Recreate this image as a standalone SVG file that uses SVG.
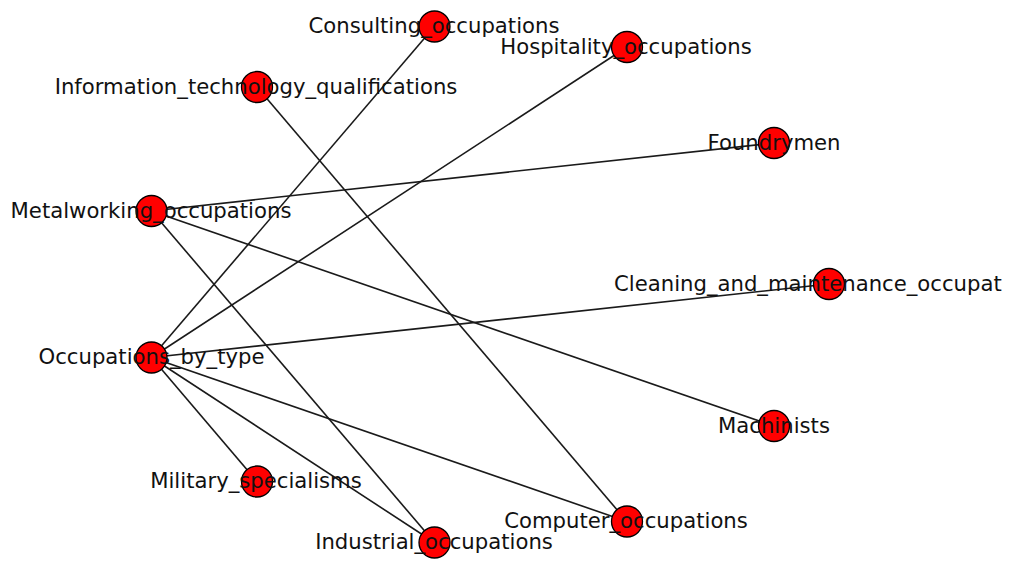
<svg xmlns="http://www.w3.org/2000/svg" width="1009" height="562" viewBox="0 0 1009 562">
<style>
.e{stroke:#1a1a1a;stroke-width:1.6;fill:none}
.n{fill:#ff0000;stroke:#000;stroke-width:1.3}
.t{font-family:"DejaVu Sans",sans-serif;font-size:21.2px;fill:#111;text-anchor:middle}
</style>
<rect width="1009" height="562" fill="#fff"/>
<g id="edges">
<line class="e" x1="151.5" y1="357.5" x2="434.5" y2="26.5"/>
<line class="e" x1="151.5" y1="357.5" x2="627" y2="47"/>
<line class="e" x1="151.5" y1="357.5" x2="829" y2="284"/>
<line class="e" x1="151.5" y1="357.5" x2="257" y2="481.5"/>
<line class="e" x1="151.5" y1="357.5" x2="434.5" y2="542.5"/>
<line class="e" x1="151.5" y1="357.5" x2="627" y2="521.5"/>
<line class="e" x1="151.5" y1="211" x2="774" y2="143"/>
<line class="e" x1="151.5" y1="211" x2="774" y2="426"/>
<line class="e" x1="151.5" y1="211" x2="434.5" y2="542.5"/>
<line class="e" x1="257" y1="87" x2="627" y2="521.5"/>
</g>
<g id="n-consulting"><circle class="n" cx="434.5" cy="26.5" r="15.5"/><text class="t" x="434" y="33">Consulting_occupations</text></g>
<g id="n-hospitality"><circle class="n" cx="627" cy="47" r="15.5"/><text class="t" x="626" y="53.5">Hospitality_occupations</text></g>
<g id="n-it"><circle class="n" cx="257" cy="87" r="15.5"/><text class="t" x="256" y="93.5">Information_technology_qualifications</text></g>
<g id="n-foundrymen"><circle class="n" cx="774" cy="143" r="15.5"/><text class="t" x="774" y="149.5">Foundrymen</text></g>
<g id="n-metalworking"><circle class="n" cx="151.5" cy="211" r="15.5"/><text class="t" x="151" y="217.5">Metalworking_occupations</text></g>
<g id="n-cleaning"><circle class="n" cx="829" cy="284" r="15.5"/><text class="t" x="614" y="290.5" style="text-anchor:start">Cleaning_and_maintenance_occupat</text></g>
<g id="n-occupations"><circle class="n" cx="151.5" cy="357.5" r="15.5"/><text class="t" x="151.5" y="364">Occupations_by_type</text></g>
<g id="n-machinists"><circle class="n" cx="774" cy="426" r="15.5"/><text class="t" x="774" y="432.5">Machinists</text></g>
<g id="n-military"><circle class="n" cx="257" cy="481.5" r="15.5"/><text class="t" x="256" y="488">Military_specialisms</text></g>
<g id="n-computer"><circle class="n" cx="627" cy="521.5" r="15.5"/><text class="t" x="626" y="528">Computer_occupations</text></g>
<g id="n-industrial"><circle class="n" cx="434.5" cy="542.5" r="15.5"/><text class="t" x="434" y="549">Industrial_occupations</text></g>
</svg>
